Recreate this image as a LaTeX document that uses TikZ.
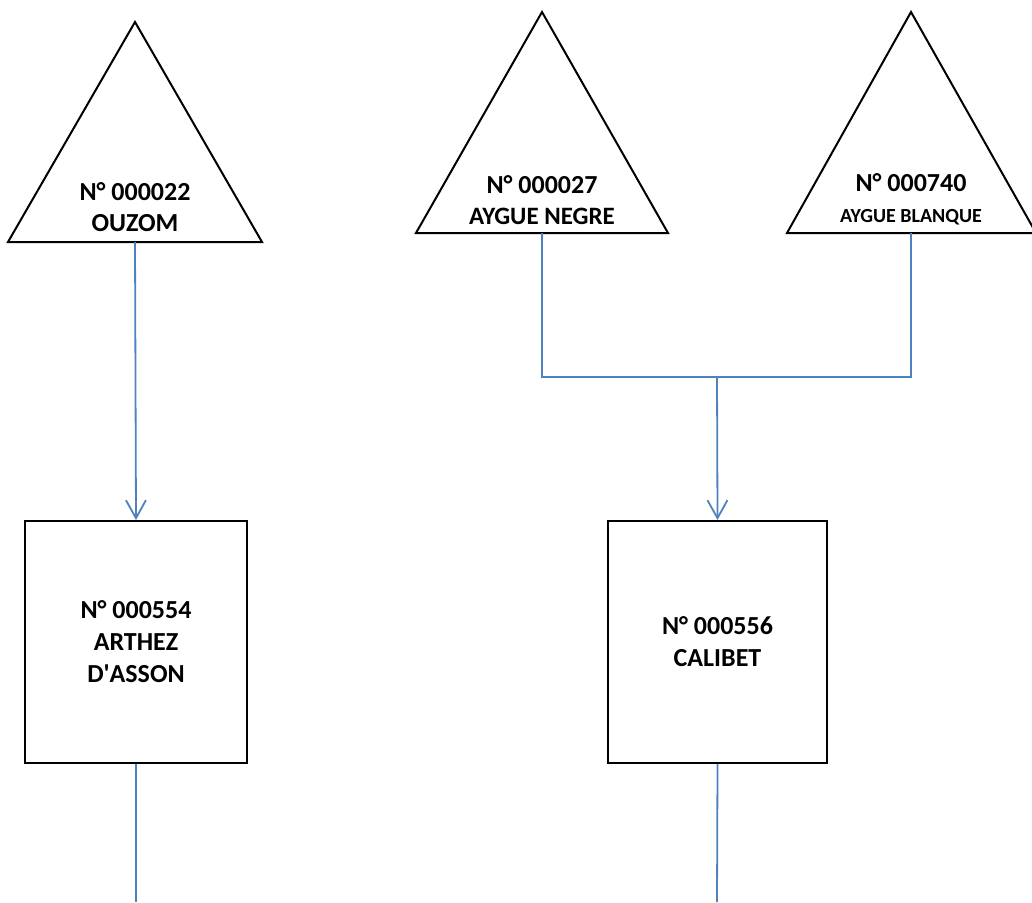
\documentclass[tikz,border=0pt]{standalone}
\usepackage{fontspec}
\setmainfont{Carlito}
\usetikzlibrary{arrows.meta}

\definecolor{riverblue}{HTML}{4F81BD}

\begin{document}
\begin{tikzpicture}[x=1pt, y=-1pt, >={Straight Barb[length=18pt,width=20pt]},
  station/.style={draw=black, line width=2pt, rectangle, inner sep=0pt, align=center,
    font=\fontsize{26}{32}\selectfont\bfseries},
  trilabel/.style={inner sep=0pt, align=center, font=\fontsize{26}{31}\selectfont\bfseries},
  source/.style={draw=black, line width=2pt, line join=miter},
  link/.style={draw=riverblue, line width=1.8pt}]
\useasboundingbox (0,0) rectangle (1032,902);

% source points (triangles)
\draw[source] (135,22) -- (262,242) -- (8,242) -- cycle;
\draw[source] (542,12) -- (668,233) -- (416,233) -- cycle;
\draw[source] (911,12) -- (1036,233) -- (787,233) -- cycle;
\coordinate (ouzom) at (135,242);
\coordinate (negre) at (542,233);
\coordinate (blanque) at (911,233);
\node[trilabel] (ouzomtxt) at (135,207) {N° 000022\\OUZOM};
\node[trilabel] (negretxt) at (542,200) {N° 000027\\{\fontsize{25}{31}\selectfont AYGUE NEGRE}};
\node[trilabel] (blanquetxt) at (911,199) {N° 000740\\{\fontsize{20}{31}\selectfont AYGUE BLANQUE}};

% stations
\node[station, minimum width=222pt, minimum height=242pt] (arthez) at (136,642)
  {N° 000554\\ARTHEZ\\D\textquotesingle ASSON};
\node[station, minimum width=219pt, minimum height=242pt] (calibet) at (717.5,642)
  {N° 000556\\CALIBET};

% flow
\coordinate (join) at (717,377);
\coordinate (out1) at (136,902);
\coordinate (out2) at (717,902);
\draw[link,->] (ouzom) -- (arthez.north);
\draw[link] (negre) |- (join) -| (blanque);
\draw[link,->] (join) -- (calibet.north);
\draw[link] (arthez.south) -- (out1);
\draw[link] (calibet.south) -- (out2);
\end{tikzpicture}
\end{document}
